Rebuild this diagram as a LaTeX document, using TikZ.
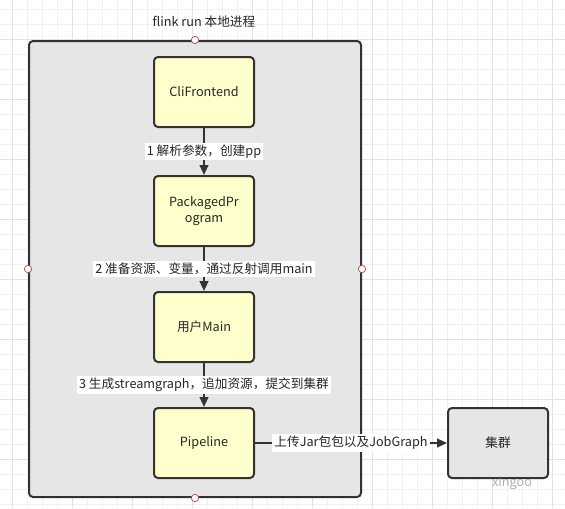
\documentclass[tikz,border=0pt]{standalone}
\usepackage{fontspec}
\setmainfont{Noto Sans CJK SC}
\usetikzlibrary{arrows.meta,positioning}
\definecolor{gridminor}{HTML}{F0F0F0}
\definecolor{gridmajor}{HTML}{E2E2E2}
\definecolor{boxline}{HTML}{333333}
\definecolor{procfill}{HTML}{E6E6E6}
\definecolor{stepfill}{HTML}{FFFFCC}
\definecolor{handle}{HTML}{B85450}

\begin{document}
\begin{tikzpicture}[x=0.75pt,y=-0.75pt,font=\fontsize{9.5pt}{11.5pt}\selectfont,
  stepbox/.style={draw=boxline,line width=1.5pt,rounded corners=3pt,fill=stepfill,
    minimum width=75pt,minimum height=52.5pt,align=center,text=black!85},
  link/.style={draw=boxline,line width=1.5pt,-{Triangle[length=7.5pt,width=6.5pt]}},
  tag/.style={fill=white,inner sep=1.5pt,text=black!85},
  knob/.style={circle,draw=handle,fill=white,line width=0.6pt,inner sep=0pt,minimum size=5.5pt}]
\useasboundingbox (0,0) rectangle (565,508);
\fill[white] (0,0) rectangle (565,508);

% background grid
\foreach \gx in {12.3,27.3,...,565} \draw[gridminor,line width=0.75pt] (\gx,0) -- (\gx,508);
\foreach \gy in {9.3,24.3,...,508} \draw[gridminor,line width=0.75pt] (0,\gy) -- (565,\gy);
\foreach \gx in {12.3,72.3,...,565} \draw[gridmajor,line width=0.75pt] (\gx,0) -- (\gx,508);
\foreach \gy in {39.3,99.3,...,508} \draw[gridmajor,line width=0.75pt] (0,\gy) -- (565,\gy);

% local process
\node[draw=boxline,line width=1.5pt,rounded corners=3pt,fill=procfill,
  minimum width=249pt,minimum height=342pt] (proc) at (195,269) {};
\node[text=black!85] (title) at (204,22) {flink run 本地进程};

\node[stepbox] (cli) at (204,92) {CliFrontend};
\node[stepbox] (pp) at (204,211) {PackagedPr\\ogram};
\node[stepbox] (usermain) at (204,327) {用户Main};
\node[stepbox] (pipe) at (204,443) {Pipeline};
\node[stepbox,fill=procfill] (cluster) at (498,443) {集群};

\draw[link] (cli) -- node[tag] {1 解析参数，创建pp} (pp);
\draw[link] (pp) -- node[tag] {2 准备资源、变量，通过反射调用main} (usermain);
\draw[link] (usermain) -- node[tag] {3 生成streamgraph，追加资源，提交到集群} (pipe);
\draw[link] (pipe) -- node[tag] {上传Jar包包以及JobGraph} (cluster);

% handles
\node[knob] at (proc.north) {};
\node[knob] at (proc.south) {};
\node[knob] at (proc.west) {};
\node[knob] at (proc.east) {};

\node[text=black!30] (mark) at (512,483) {xingoo};
\end{tikzpicture}
\end{document}
